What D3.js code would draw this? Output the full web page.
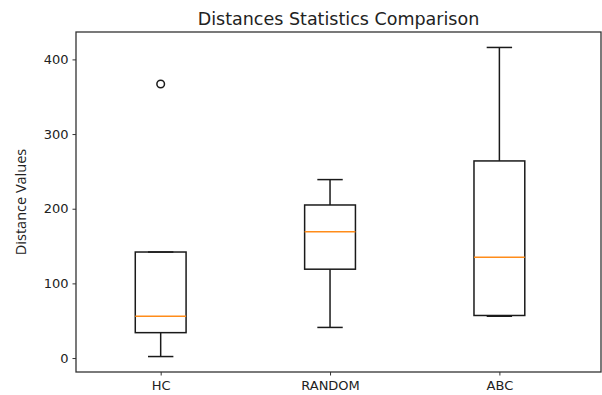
<!DOCTYPE html>
<html>
<head>
<meta charset="utf-8">
<script src="https://cdn.jsdelivr.net/npm/d3@7"></script>
<style>
  html, body { margin: 0; padding: 0; background: #fff; }
  svg { display: block; font-family: "DejaVu Sans", sans-serif; }
</style>
</head>
<body>
<div id="chart"></div>
<script>
// box statistics
const categories = ["HC", "RANDOM", "ABC"];
const whiskerLow = [2, 41, 56];
const q1 = [34, 119, 57];
const median = [56, 169, 135];
const q3 = [142, 205, 264];
const whiskerHigh = [142, 239, 416];
const outliers = [[367], [], []];
const yTicks = [0, 100, 200, 300, 400];

const width = 602, height = 395;
const margin = { top: 32, right: 1, bottom: 23, left: 76 };

const svg = d3.select("#chart")
  .append("svg")
  .attr("width", width)
  .attr("height", height);

// matplotlib style 5% padding on y
const lo = d3.min(whiskerLow), hi = d3.max(whiskerHigh.concat(outliers.flat()));
const pad = (hi - lo) * 0.05;

const x = d3.scaleLinear()
  .domain([0.5, 3.6])
  .range([margin.left, width - margin.right]);

const y = d3.scaleLinear()
  .domain([lo - pad, hi + pad])
  .range([height - margin.bottom, margin.top]);

const boxW = x(1.3) - x(1);   // 0.3 data units wide
const capW = boxW / 2;
const ink = "#1a1a1a";

const data = categories.map((c, i) => ({
  name: c, pos: i + 1,
  lo: whiskerLow[i], q1: q1[i], med: median[i], q3: q3[i], hi: whiskerHigh[i],
  out: outliers[i]
}));

const boxes = svg.append("g").selectAll(".box")
  .data(data)
  .enter()
  .append("g")
  .attr("class", "box");

// whiskers
boxes.append("line")
  .attr("x1", d => x(d.pos)).attr("x2", d => x(d.pos))
  .attr("y1", d => y(d.q1)).attr("y2", d => y(d.lo))
  .attr("stroke", ink).attr("stroke-width", 1.5);
boxes.append("line")
  .attr("x1", d => x(d.pos)).attr("x2", d => x(d.pos))
  .attr("y1", d => y(d.q3)).attr("y2", d => y(d.hi))
  .attr("stroke", ink).attr("stroke-width", 1.5);

// caps
["lo", "hi"].forEach(k => {
  boxes.append("line")
    .attr("x1", d => x(d.pos) - capW / 2).attr("x2", d => x(d.pos) + capW / 2)
    .attr("y1", d => y(d[k])).attr("y2", d => y(d[k]))
    .attr("stroke", ink).attr("stroke-width", 1.5);
});

// box
boxes.append("rect")
  .attr("x", d => x(d.pos) - boxW / 2)
  .attr("width", boxW)
  .attr("y", d => y(d.q3))
  .attr("height", d => y(d.q1) - y(d.q3))
  .attr("fill", "none")
  .attr("stroke", ink)
  .attr("stroke-width", 1.5);

// median
boxes.append("line")
  .attr("x1", d => x(d.pos) - boxW / 2).attr("x2", d => x(d.pos) + boxW / 2)
  .attr("y1", d => y(d.med)).attr("y2", d => y(d.med))
  .attr("stroke", "#ff8c1a").attr("stroke-width", 1.5);

// fliers
boxes.selectAll(".flier")
  .data(d => d.out.map(v => ({ pos: d.pos, v })))
  .enter()
  .append("circle")
  .attr("cx", d => x(d.pos))
  .attr("cy", d => y(d.v))
  .attr("r", 3.8)
  .attr("fill", "none")
  .attr("stroke", ink)
  .attr("stroke-width", 1.5);

// frame
svg.append("rect")
  .attr("x", margin.left).attr("y", margin.top)
  .attr("width", width - margin.left - margin.right)
  .attr("height", height - margin.bottom - margin.top)
  .attr("fill", "none")
  .attr("stroke", "#333")
  .attr("stroke-width", 1.3);

// axes
const yAxis = svg.append("g")
  .attr("transform", `translate(${margin.left},0)`)
  .call(d3.axisLeft(y).tickValues(yTicks).tickSize(3.5).tickPadding(4));
const xAxis = svg.append("g")
  .attr("transform", `translate(0,${height - margin.bottom})`)
  .call(d3.axisBottom(x).tickValues([1, 2, 3]).tickSize(3.5).tickPadding(5)
    .tickFormat((d, i) => categories[i]));

[yAxis, xAxis].forEach(a => {
  a.select(".domain").remove();
  a.selectAll("line").attr("stroke", "#333");
  a.selectAll("text")
    .attr("fill", "#222")
    .style("font-family", "DejaVu Sans, sans-serif")
    .style("font-size", "13px");
});

// title
svg.append("text")
  .attr("x", (margin.left + width - margin.right) / 2)
  .attr("y", 25)
  .attr("text-anchor", "middle")
  .attr("fill", "#222")
  .style("font-size", "17.5px")
  .text("Distances Statistics Comparison");

// y label
svg.append("text")
  .attr("transform", `translate(26,${(margin.top + height - margin.bottom) / 2}) rotate(-90)`)
  .attr("text-anchor", "middle")
  .attr("fill", "#222")
  .style("font-family", "Open Sans, sans-serif")
  .style("font-size", "14.5px")
  .text("Distance Values");
</script>
</body>
</html>
